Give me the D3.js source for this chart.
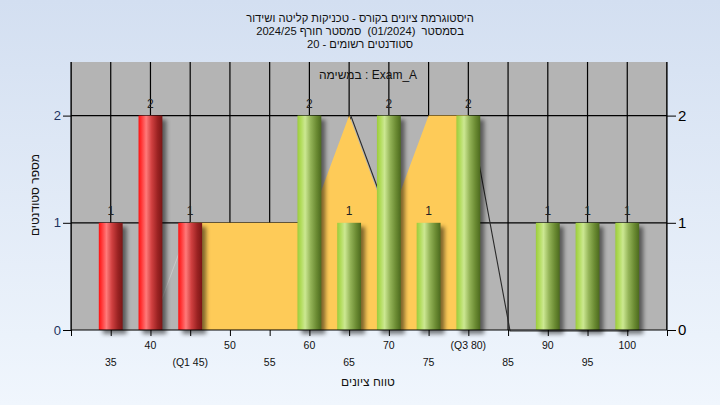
<!DOCTYPE html>
<html><head><meta charset="utf-8">
<script src="https://cdn.jsdelivr.net/npm/d3@7/dist/d3.min.js"></script>
<style>
html,body{margin:0;padding:0;}
svg{display:block;font-family:"Liberation Sans",Arial,sans-serif;}
</style></head>
<body>
<svg id="c" width="720" height="405"></svg>
<script>
const titleLines = ["היסטוגרמת ציונים בקורס - טכניקות קליטה ושידור", "בסמסטר  (01/2024)  סמסטר חורף 2024/25", "סטודנטים רשומים - 20"];
const legendText = "במשימה : Exam_A";
const yTitle = "מספר סטודנטים";
const xTitle = "טווח ציונים";
const categories = [35,40,45,50,55,60,65,70,75,80,85,90,95,100];
const tickLabels = ["35","40","(Q1 45)","50","55","60","65","70","75","(Q3 80)","85","90","95","100"];
const counts = [1,2,1,0,0,2,1,2,1,2,0,1,1,1];
const areaValues = [0,0,1,1,1,1,2,1,2,2,0,0,0,0];
const q1 = 45, q3 = 80;
const passMark = 55;
const yTicks = [0,1,2];

const svg = d3.select("#c");
const W = 720, H = 405;
const L = 71, R = 667, T = 62, B = 330;
const x = d3.scaleLinear().domain([30,105]).range([L,R]);
const y = d3.scaleLinear().domain([0,2.5]).range([B,T]);
const step = x(35)-x(30);
const bw = step*0.6;

const defs = svg.append("defs");
const bg = defs.append("linearGradient").attr("id","bg").attr("x1",0).attr("y1",0).attr("x2",0).attr("y2",1);
bg.append("stop").attr("offset","0%").attr("stop-color","#d3dff1");
bg.append("stop").attr("offset","100%").attr("stop-color","#f0f6fd");
function cyl(id, stops){
  const g = defs.append("linearGradient").attr("id",id).attr("x1",0).attr("y1",0).attr("x2",1).attr("y2",0);
  stops.forEach(s=>g.append("stop").attr("offset",s[0]).attr("stop-color",s[1]));
}
cyl("red",[["0%","#ff1010"],["12%","#ff3535"],["32%","#ff7a7a"],["55%","#d04040"],["80%","#9a2222"],["100%","#7a1515"]]);
cyl("green",[["0%","#9ccc3c"],["15%","#b2dc5c"],["32%","#cce892"],["55%","#94b458"],["80%","#6a8a32"],["100%","#4c6a1e"]]);
const f = defs.append("filter").attr("id","sh").attr("x","-50%").attr("y","-20%").attr("width","200%").attr("height","140%");
f.append("feGaussianBlur").attr("stdDeviation",2);
defs.append("clipPath").attr("id","clip").append("rect").attr("x",L).attr("y",T).attr("width",R-L).attr("height",B-T+2);

svg.append("rect").attr("width",W).attr("height",H).attr("fill","url(#bg)");
svg.append("rect").attr("x",L).attr("y",T).attr("width",R-L).attr("height",B-T).attr("fill","#b4b4b4");

// title
svg.append("g").selectAll("text").data(titleLines).join("text")
  .attr("x",360).attr("y",(d,i)=>22+i*13).attr("text-anchor","middle")
  .attr("direction","rtl").style("direction","rtl").style("unicode-bidi","embed")
  .style("white-space","pre")
  .attr("font-size",11.2).attr("fill","#111").text(d=>d);

const pts = categories.map((c,i)=>[c,areaValues[i]]);
const line = d3.line().x(d=>x(d[0])).y(d=>y(d[1]));
const plot = svg.append("g").attr("clip-path","url(#clip)");
// gridlines
const gx = d3.range(30,106,5);
plot.append("g").selectAll("line").data(gx).join("line")
  .attr("x1",d=>x(d)).attr("x2",d=>x(d)).attr("y1",T).attr("y2",B).attr("stroke","#000").attr("stroke-width",1.2);
plot.append("g").selectAll("line").data(yTicks.filter(v=>v>0)).join("line")
  .attr("x1",L).attr("x2",R).attr("y1",d=>y(d)).attr("y2",d=>y(d)).attr("stroke","#000").attr("stroke-width",1.2);

// series line: light before Q1, dark shadowed from Q1 on
const before = pts.filter(d=>d[0]<=q1);
const after = pts.filter(d=>d[0]>=q1);
plot.append("path").attr("d",line(before)).attr("fill","none").attr("stroke","#c8c8c8").attr("stroke-width",1);
plot.append("path").attr("d",line(after)).attr("transform","translate(2,1)")
  .attr("fill","none").attr("stroke","#2a2a2a").attr("stroke-width",1.1);
const inner = pts.filter(d=>d[0]>=q1 && d[0]<=q3);
const area = d3.area().x(d=>x(d[0])).y0(y(0)).y1(d=>y(d[1]));
plot.append("path").attr("d",area(inner)).attr("fill","#fecb58");

// bars
const bars = categories.map((c,i)=>({c,v:counts[i]})).filter(d=>d.v>0);
const bg2 = svg.append("g");
bg2.selectAll("rect.s").data(bars).join("rect").attr("class","s")
  .attr("x",d=>x(d.c)-bw/2+4).attr("y",d=>y(d.v)+4).attr("width",bw).attr("height",d=>y(0)-y(d.v))
  .attr("fill","#000").attr("opacity",0.5).attr("filter","url(#sh)");
bg2.selectAll("rect.b").data(bars).join("rect").attr("class","b")
  .attr("x",d=>x(d.c)-bw/2).attr("y",d=>y(d.v)).attr("width",bw).attr("height",d=>y(0)-y(d.v))
  .attr("fill",d=>d.c<passMark?"url(#red)":"url(#green)");
bg2.selectAll("text").data(bars).join("text")
  .attr("x",d=>x(d.c)).attr("y",d=>y(d.v)-8).attr("text-anchor","middle")
  .attr("font-size",12).attr("fill","#222").text(d=>d.v);

// axes
svg.append("line").attr("x1",L).attr("x2",L).attr("y1",T).attr("y2",B).attr("stroke","#000").attr("stroke-width",1.2);
svg.append("line").attr("x1",R).attr("x2",R).attr("y1",T).attr("y2",B).attr("stroke","#000").attr("stroke-width",1.2);
svg.append("line").attr("x1",L).attr("x2",R).attr("y1",B).attr("y2",B).attr("stroke","#000").attr("stroke-width",1.2);

const la = svg.append("g").attr("transform",`translate(${L},0)`)
  .call(d3.axisLeft(y).tickValues(yTicks).tickSize(8).tickPadding(2).tickFormat(d3.format("d")));
la.select(".domain").remove();
la.selectAll("text").attr("font-size",13).attr("fill","#1d3260").attr("font-family","Liberation Sans, Arial, sans-serif");
const ra = svg.append("g").attr("transform",`translate(${R},0)`)
  .call(d3.axisRight(y).tickValues(yTicks).tickSize(9).tickPadding(2).tickFormat(d3.format("d")));
ra.select(".domain").remove();
ra.selectAll("text").attr("font-size",15).attr("fill","#000").attr("font-family","Liberation Sans, Arial, sans-serif");

const ba = svg.append("g").attr("transform",`translate(0,${B})`)
  .call(d3.axisBottom(x).tickValues(gx).tickSize(6).tickFormat(""));
ba.select(".domain").remove();
svg.append("g").selectAll("text").data(categories).join("text")
  .attr("x",d=>x(d)).attr("y",(d,i)=>i%2===1?349:366).attr("text-anchor","middle")
  .attr("font-size",10.5).attr("fill","#111").text((d,i)=>tickLabels[i]);

svg.append("text").attr("x",368).attr("y",79).attr("text-anchor","middle").attr("font-size",12).attr("fill","#111").text(legendText);
svg.append("text").attr("x",368).attr("y",386).attr("text-anchor","middle").attr("font-size",12).attr("fill","#111").style("direction","rtl").text(xTitle);
svg.append("text").attr("transform","translate(39,195) rotate(-90)").attr("text-anchor","middle").attr("font-size",12).attr("fill","#111").style("direction","rtl").text(yTitle);
</script>
</body></html>
